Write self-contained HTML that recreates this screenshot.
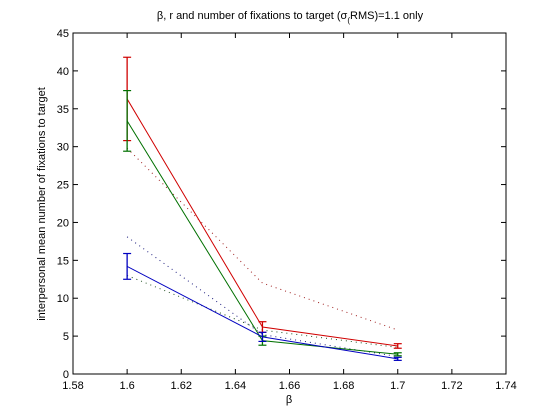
<!DOCTYPE html>
<html><head><meta charset="utf-8"><style>
body{margin:0;background:#fff;}
svg{display:block;font-family:"Liberation Sans",sans-serif;}
</style></head><body>
<svg id="chart" width="560" height="420">
<rect x="0" y="0" width="560" height="420" fill="#fff"/>
<text x="290" y="19" font-size="11" text-anchor="middle">β, r and number of fixations to target (σ<tspan font-size="8" dy="4">(</tspan><tspan dy="-4">RMS)=1.1 only</tspan></text>
<g id="plot"></g>
</svg>
<script>
const xTicks=[1.58,1.6,1.62,1.64,1.66,1.68,1.7,1.72,1.74];
const yTicks=[0,5,10,15,20,25,30,35,40,45];
const xVals=[1.6,1.65,1.7];
const redVals=[36.3,6.2,3.7];
const redErr=[5.5,0.7,0.3];
const greenVals=[33.4,4.4,2.6];
const greenErr=[4.0,0.6,0.2];
const blueVals=[14.2,4.9,2.0];
const blueErr=[1.7,0.6,0.2];
const dotA=[29.8,12.0,5.8];
const dotB=[18.1,5.2,2.3];
const dotC=[13.0,5.8,3.5];
const L=73,R=506,T=33,B=374;
const xs=v=>L+(v-1.58)/(1.74-1.58)*(R-L);
const ys=v=>B-v/45*(B-T);
const NS="http://www.w3.org/2000/svg";
const g=document.getElementById('plot');
function mk(t,a){const e=document.createElementNS(NS,t);for(const k in a)e.setAttribute(k,a[k]);g.appendChild(e);return e;}
const frame=mk('rect',{x:L,y:T,width:R-L,height:B-T,fill:'none',stroke:'#000','stroke-width':1});


xTicks.forEach(v=>{const x=xs(v);
 mk('line',{x1:x,x2:x,y1:B,y2:B-5,stroke:'#000'});mk('line',{x1:x,x2:x,y1:T,y2:T+5,stroke:'#000'});
 const t=mk('text',{x:x,y:B+15,'font-size':11,'text-anchor':'middle'});t.textContent=String(v);
 
 });
yTicks.forEach(v=>{const y=ys(v);
 mk('line',{x1:L,x2:L+5,y1:y,y2:y,stroke:'#000'});mk('line',{x1:R,x2:R-5,y1:y,y2:y,stroke:'#000'});
 const t=mk('text',{x:L-4,y:y+4,'font-size':11,'text-anchor':'end'});t.textContent=String(v);
 
 });
const xl=mk('text',{x:289,y:403,'font-size':11,'text-anchor':'middle'});xl.textContent='β';


const yl=mk('text',{x:0,y:0,'font-size':11,'text-anchor':'middle',transform:'translate(45,204) rotate(-90)'});yl.textContent='interpersonal mean number of fixations to target';


function dotted(vals,col,name){const p=mk('polyline',{points:vals.map((v,i)=>xs(xVals[i])+','+ys(v)).join(' '),fill:'none',stroke:col,'stroke-width':1,'stroke-dasharray':'1,4'});
 
 }
dotted(dotA,'#a02020','dotted-line-a');dotted(dotB,'#202080','dotted-line-b');dotted(dotC,'#205020','dotted-line-c');
function series(vals,err,col,name){
 const p=mk('polyline',{points:vals.map((v,i)=>xs(xVals[i])+','+ys(v)).join(' '),fill:'none',stroke:col,'stroke-width':1});
 
 
 vals.forEach((v,i)=>{const x=xs(xVals[i]),y1=ys(v+err[i]),y2=ys(v-err[i]);
  mk('line',{x1:x,x2:x,y1:y1,y2:y2,stroke:col,'stroke-width':1.3});
  mk('line',{x1:x-4,x2:x+4,y1:y1,y2:y1,stroke:col,'stroke-width':1.2});
  mk('line',{x1:x-4,x2:x+4,y1:y2,y2:y2,stroke:col,'stroke-width':1.2});});
}
series(redVals,redErr,'#d00000','red-series');
series(greenVals,greenErr,'#007000','green-series');
series(blueVals,blueErr,'#0000c0','blue-series');
</script>
</body></html>
